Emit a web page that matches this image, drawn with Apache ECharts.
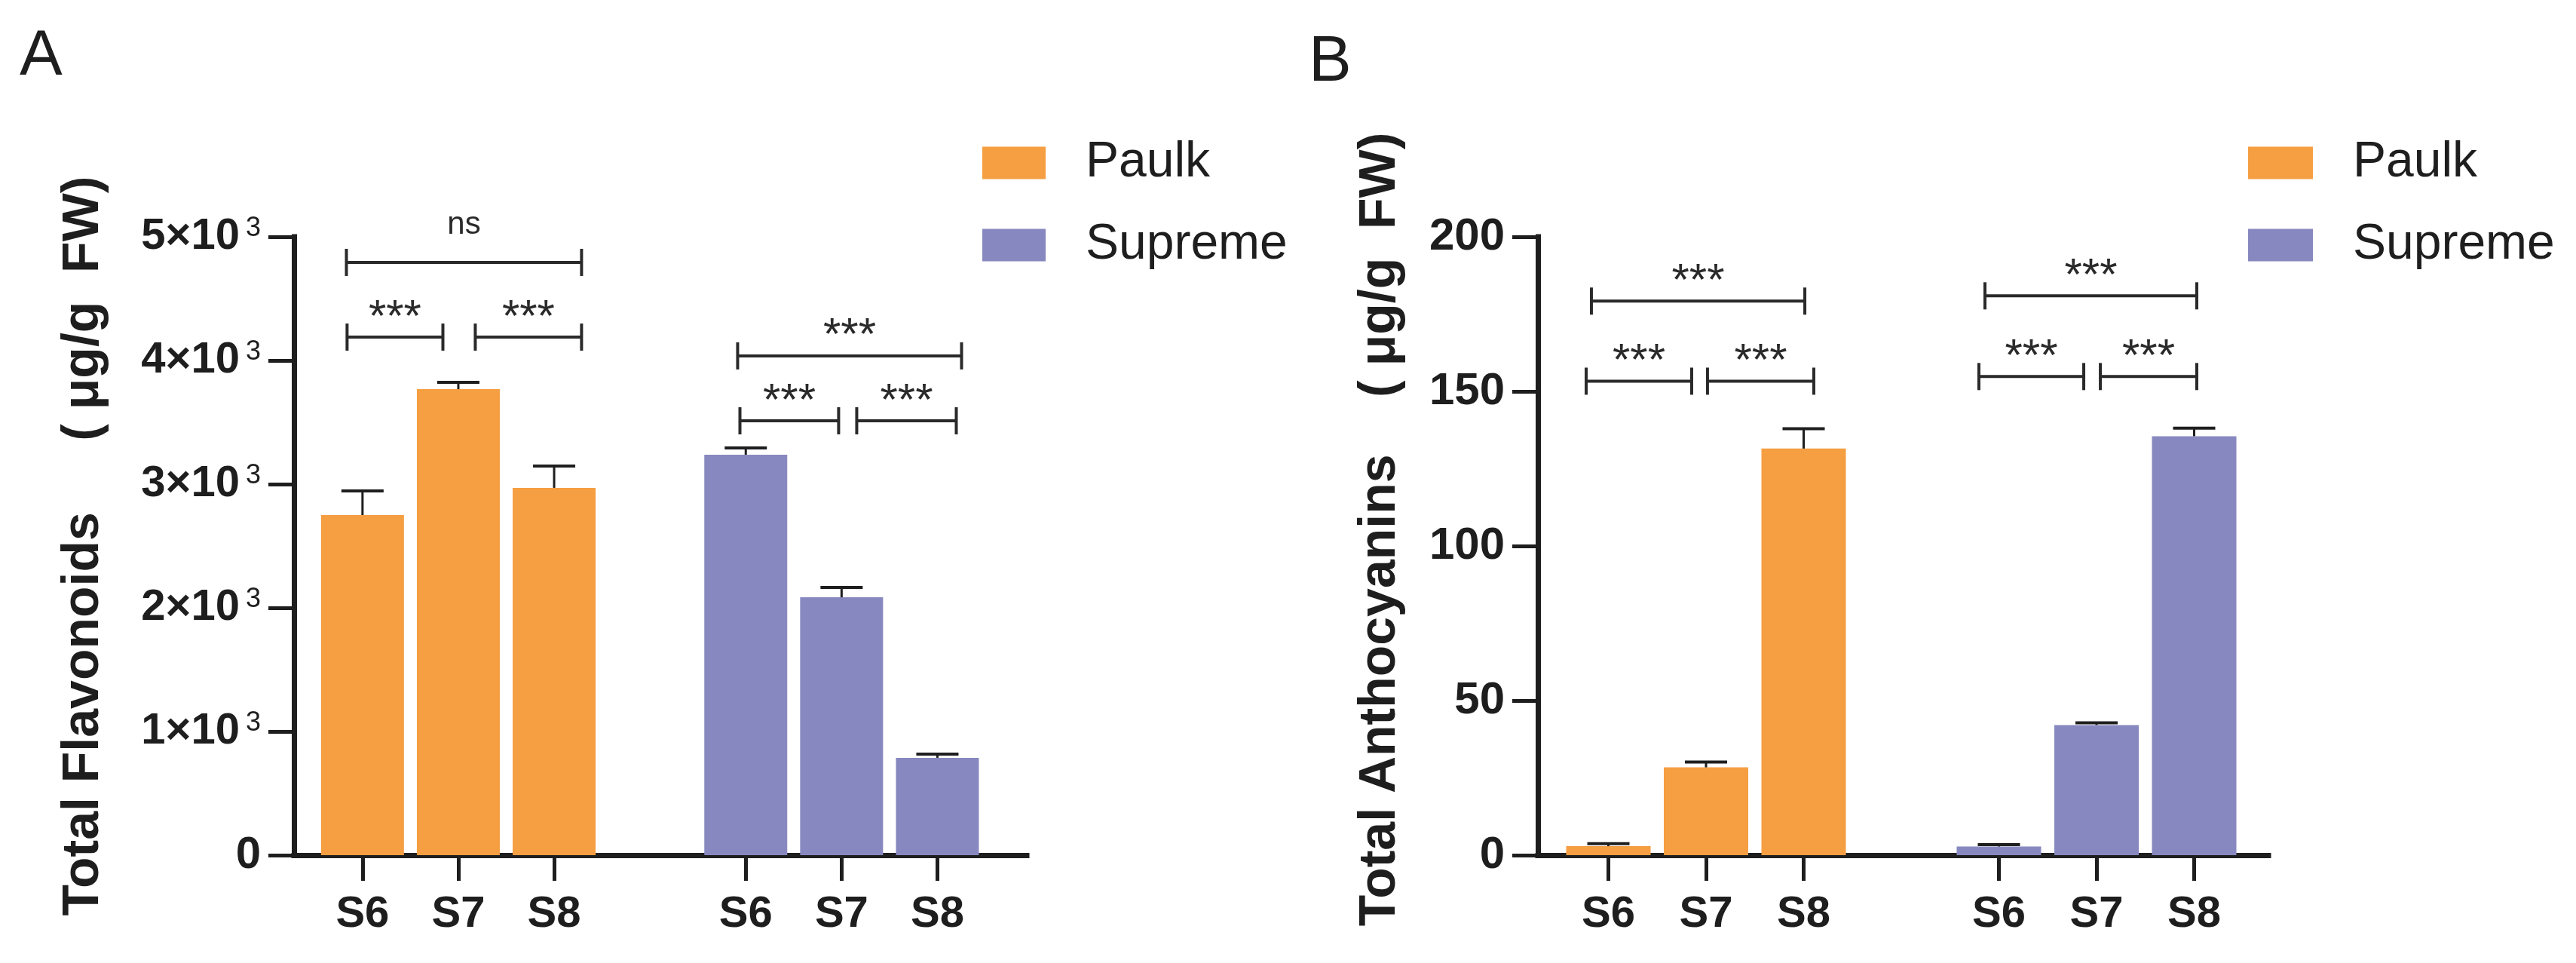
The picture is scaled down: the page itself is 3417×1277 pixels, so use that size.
<!DOCTYPE html>
<html>
<head>
<meta charset="utf-8">
<script src="https://cdn.jsdelivr.net/npm/echarts@6/dist/echarts.min.js"></script>
<style>
html,body{margin:0;padding:0;background:#fff;}
#chart{width:3417px;height:1277px;}
</style>
</head>
<body>
<div id="chart"></div>
<script>
// ---------- data ----------
const categories = ['S6', 'S7', 'S8', '', 'S6', 'S7', 'S8'];
const paulkIdx = [0, 1, 2];
const supremeIdx = [4, 5, 6];

const flavPaulk = [2750, 3768, 2970];
const flavPaulkErr = [195, 55, 176];
const flavSupreme = [3238, 2085, 787];
const flavSupremeErr = [55, 80, 30];

const anthPaulk = [2.9, 28.4, 131.5];
const anthPaulkErr = [0.8, 1.7, 6.4];
const anthSupreme = [2.8, 42.1, 135.5];
const anthSupremeErr = [0.6, 0.7, 2.6];

const flavTicks = ['0', '1×10³', '2×10³', '3×10³', '4×10³', '5×10³'];
const anthTicks = ['0', '50', '100', '150', '200'];

// significance brackets: [fromCategory, toCategory, level, label]
const flavBrackets = [[0, 2, 4793, 'ns'], [0, 1, 4189, '***'], [1, 2, 4189, '***'],
                      [4, 6, 4037, '***'], [4, 5, 3512, '***'], [5, 6, 3512, '***']];
const anthBrackets = [[0, 2, 179.2, '***'], [0, 1, 153.3, '***'], [1, 2, 153.3, '***'],
                      [4, 6, 180.9, '***'], [4, 5, 154.8, '***'], [5, 6, 154.8, '***']];

// ---------- layout / style ----------
const FONT = "'Liberation Sans', Arial, sans-serif";
const ORANGE = '#F59E42';
const PURPLE = '#8888C0';
const INK = '#1e1e1e';
// bracket end offsets as fraction of a category slot
const flavBracketOff = [[-0.168, 0.286], [-0.161, -0.161], [0.177, 0.286],
                        [-0.085, 0.252], [-0.061, -0.031], [0.158, 0.197]];
const anthBracketOff = [[-0.174, 0.012], [-0.228, -0.147], [0.015, 0.104],
                        [-0.143, 0.027], [-0.205, -0.131], [0.039, 0.027]];

function fullSeries(vals, idx) {
  const arr = categories.map(() => '-');
  idx.forEach((c, i) => { arr[c] = vals[i]; });
  return arr;
}
function errData(vals, errs, idx) {
  return idx.map((c, i) => [c, vals[i], vals[i] + errs[i]]);
}

function errRender(params, api) {
  const p0 = api.coord([api.value(0), api.value(1)]);
  const p1 = api.coord([api.value(0), api.value(2)]);
  return {
    type: 'group',
    children: [
      { type: 'line', shape: { x1: p0[0], y1: p0[1], x2: p1[0], y2: p1[1] }, style: { stroke: INK, lineWidth: 3 } },
      { type: 'line', shape: { x1: p1[0] - 28, y1: p1[1], x2: p1[0] + 28, y2: p1[1] }, style: { stroke: INK, lineWidth: 4 } }
    ]
  };
}

function bracketRender(brackets, offs) {
  return function (params, api) {
    const i = params.dataIndex;
    const slot = api.size([1, 0])[0];
    const pL = api.coord([api.value(0), api.value(2)]);
    const pR = api.coord([api.value(1), api.value(2)]);
    const xL = pL[0] + offs[i][0] * slot;
    const xR = pR[0] + offs[i][1] * slot;
    const y = pL[1];
    const label = brackets[i][3];
    const isNs = label === 'ns';
    return {
      type: 'group',
      children: [
        { type: 'line', shape: { x1: xL, y1: y, x2: xR, y2: y }, style: { stroke: '#2a2a2a', lineWidth: 4 } },
        { type: 'line', shape: { x1: xL, y1: y - 18, x2: xL, y2: y + 18 }, style: { stroke: '#2a2a2a', lineWidth: 4 } },
        { type: 'line', shape: { x1: xR, y1: y - 18, x2: xR, y2: y + 18 }, style: { stroke: '#2a2a2a', lineWidth: 4 } },
        { type: 'text', x: (xL + xR) / 2, y: y - (isNs ? 50 : 25),
          style: { text: label, fontSize: isNs ? 42 : 60, fontFamily: FONT, fill: '#2a2a2a',
                   align: 'center', verticalAlign: 'middle' } }
      ]
    };
  };
}

function tickFormatter(ticks) {
  return function (value, index) {
    const t = ticks[index];
    if (t === undefined) return '';
    if (t.indexOf('³') >= 0) return '{b|' + t.replace('³', '') + '}{s|3}';
    return '{z|' + t + '}';
  };
}

const labelRich = {
  b: { fontSize: 58, fontWeight: 'bold', fontFamily: FONT, color: INK },
  s: { fontSize: 36, fontFamily: FONT, color: INK, verticalAlign: 'top', padding: [0, 0, 0, 8] },
  z: { fontSize: 60, fontWeight: 'bold', fontFamily: FONT, color: INK }
};

const GRID_TOP = 314, GRID_H = 820;

function axesPanel(gridIdx, max, interval, ticks, name, nameGap, namePad) {
  return {
    x: {
      type: 'value', gridIndex: gridIdx, min: 0, max: 1,
      axisLine: { show: true, onZero: false, lineStyle: { color: INK, width: 7, cap: 'square' } },
      axisTick: { show: false }, axisLabel: { show: false }, splitLine: { show: false }
    },
    y: {
      type: 'value', gridIndex: gridIdx, min: 0, max: max, interval: interval,
      axisLine: { show: true, lineStyle: { color: INK, width: 7, cap: 'square' } },
      axisTick: { show: true, length: 34, lineStyle: { color: INK, width: 5 } },
      axisLabel: { margin: 44, formatter: tickFormatter(ticks), rich: labelRich },
      splitLine: { show: false },
      name: name, nameLocation: 'middle', nameGap: nameGap, nameRotate: 90,
      nameTextStyle: { fontSize: 68, fontWeight: 'bold', fontFamily: FONT, color: INK, padding: namePad }
    }
  };
}

function barPanel(gridIdx, max, interval) {
  return {
    x: {
      type: 'category', gridIndex: gridIdx, data: categories,
      axisLine: { show: false },
      axisTick: { show: true, alignWithLabel: true, length: 34,
                  interval: (i, v) => v !== '', lineStyle: { color: INK, width: 5 } },
      axisLabel: { interval: (i, v) => v !== '', margin: 50, fontSize: 58, fontWeight: 'bold',
                   fontFamily: FONT, color: INK },
      splitLine: { show: false }
    },
    y: { type: 'value', gridIndex: gridIdx, min: 0, max: max, interval: interval, show: false, splitLine: { show: false } }
  };
}

const aAx = axesPanel(0, 5000, 1000, flavTicks, 'Total Flavonoids     ( μg/g  FW)', 245, [0, 0, 0, 0]);
const aBar = barPanel(1, 5000, 1000);
const bAx = axesPanel(2, 200, 50, anthTicks, 'Total Anthocyanins    ( μg/g  FW)', 175, [0, 0, 0, 44]);
const bBar = barPanel(3, 200, 50);

const option = {
  animation: false,
  backgroundColor: '#fff',
  textStyle: { fontFamily: FONT },
  grid: [
    { left: 390, width: 972, top: GRID_TOP, height: GRID_H },
    { left: 417.3, width: 889.7, top: GRID_TOP, height: GRID_H },
    { left: 2040, width: 969, top: GRID_TOP, height: GRID_H },
    { left: 2068.75, width: 906.5, top: GRID_TOP, height: GRID_H }
  ],
  xAxis: [aAx.x, aBar.x, bAx.x, bBar.x],
  yAxis: [aAx.y, aBar.y, bAx.y, bBar.y],
  legend: [
    { orient: 'vertical', left: 1303, top: 183, itemWidth: 84, itemHeight: 43, itemGap: 43, padding: 0,
      icon: 'rect', data: ['Paulk', 'Supreme'],
      textStyle: { fontSize: 66, lineHeight: 66, color: INK, fontFamily: FONT, padding: [0, 0, 0, 48] } },
    { orient: 'vertical', left: 2982, top: 183, itemWidth: 86, itemHeight: 43, itemGap: 43, padding: 0,
      icon: 'rect', data: ['Paulk', 'Supreme'],
      textStyle: { fontSize: 66, lineHeight: 66, color: INK, fontFamily: FONT, padding: [0, 0, 0, 48] } }
  ],
  graphic: [
    { type: 'text', left: 26, top: 33, style: { text: 'A', fontSize: 85, fontFamily: FONT, fill: INK } },
    { type: 'text', left: 1736, top: 41, style: { text: 'B', fontSize: 85, fontFamily: FONT, fill: INK } }
  ],
  series: [
    { name: 'Paulk', type: 'bar', xAxisIndex: 1, yAxisIndex: 1, barWidth: 110, barGap: '-100%',
      itemStyle: { color: ORANGE }, data: fullSeries(flavPaulk, paulkIdx) },
    { name: 'Supreme', type: 'bar', xAxisIndex: 1, yAxisIndex: 1, barWidth: 110, barGap: '-100%',
      itemStyle: { color: PURPLE }, data: fullSeries(flavSupreme, supremeIdx) },
    { name: 'Paulk', type: 'bar', xAxisIndex: 3, yAxisIndex: 3, barWidth: 112, barGap: '-100%',
      itemStyle: { color: ORANGE }, data: fullSeries(anthPaulk, paulkIdx) },
    { name: 'Supreme', type: 'bar', xAxisIndex: 3, yAxisIndex: 3, barWidth: 112, barGap: '-100%',
      itemStyle: { color: PURPLE }, data: fullSeries(anthSupreme, supremeIdx) },
    { name: 'errA', type: 'custom', xAxisIndex: 1, yAxisIndex: 1, z: 5, renderItem: errRender,
      data: errData(flavPaulk, flavPaulkErr, paulkIdx).concat(errData(flavSupreme, flavSupremeErr, supremeIdx)) },
    { name: 'errB', type: 'custom', xAxisIndex: 3, yAxisIndex: 3, z: 5, renderItem: errRender,
      data: errData(anthPaulk, anthPaulkErr, paulkIdx).concat(errData(anthSupreme, anthSupremeErr, supremeIdx)) },
    { name: 'sigA', type: 'custom', xAxisIndex: 1, yAxisIndex: 1, z: 5, clip: false,
      renderItem: bracketRender(flavBrackets, flavBracketOff), data: flavBrackets.map(b => [b[0], b[1], b[2]]) },
    { name: 'sigB', type: 'custom', xAxisIndex: 3, yAxisIndex: 3, z: 5, clip: false,
      renderItem: bracketRender(anthBrackets, anthBracketOff), data: anthBrackets.map(b => [b[0], b[1], b[2]]) }
  ]
};

const chart = echarts.init(document.getElementById('chart'));
chart.setOption(option);
</script>
</body>
</html>
